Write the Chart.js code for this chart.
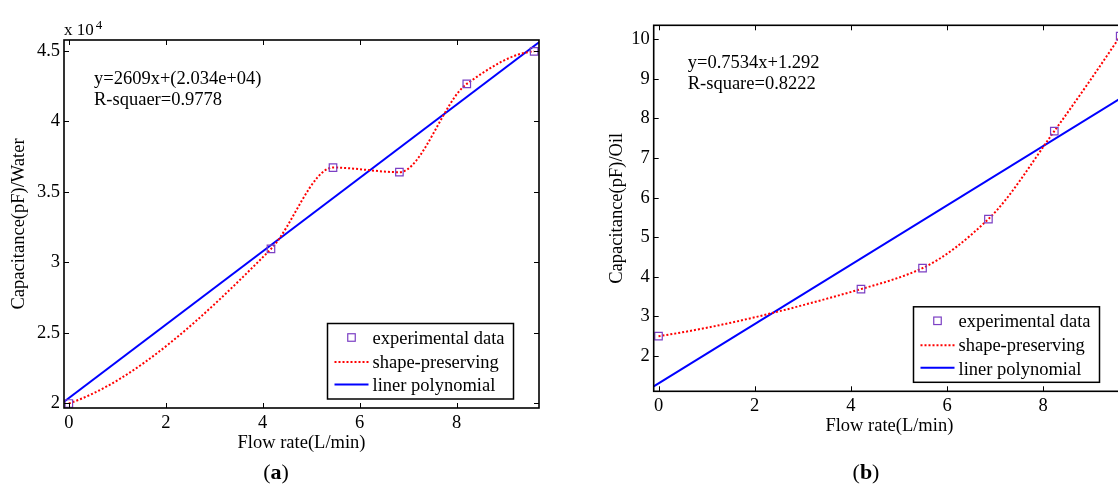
<!DOCTYPE html>
<html><head><meta charset="utf-8">
<script src="https://cdn.jsdelivr.net/npm/chart.js@4.4.1/dist/chart.umd.min.js"></script>
<style>
html,body{margin:0;padding:0;background:#fff;width:1118px;height:486px;overflow:hidden;position:relative;}
#wa{position:absolute;left:0;top:0;width:560px;height:486px;}
#wb{position:absolute;left:580px;top:0;width:580px;height:486px;}
</style></head><body>
<div id="wa"><canvas id="ca" width="560" height="486"></canvas></div>
<div id="wb"><canvas id="cb" width="580" height="486"></canvas></div>
<script>
// ---------- data ----------
const flowWater = [0, 4.17, 5.45, 6.82, 8.21, 9.6];
const capWater  = [20000, 30950, 36720, 36390, 42650, 44950];
const fitFlowWater = [-0.1, 9.7];
const fitCapWater  = [20130, 45600];

const flowOil = [0, 4.21, 5.49, 6.86, 8.23, 9.6];
const capOil  = [2.5, 3.69, 4.22, 5.46, 7.68, 10.08];
const fitFlowOil = [-0.1, 9.7];
const fitCapOil  = [1.23, 8.58];

const xTicks = [0, 2, 4, 6, 8];
const yTicksWater = [20000, 25000, 30000, 35000, 40000, 45000];
const yTicksOil = [2, 3, 4, 5, 6, 7, 8, 9, 10];

const legendLabels = ['experimental data', 'shape-preserving', 'liner polynomial'];
const eqWater = ['y=2609x+(2.034e+04)', 'R-squaer=0.9778'];
const eqOil = ['y=0.7534x+1.292', 'R-square=0.8222'];
const xTitle = 'Flow rate(L/min)';
const yTitleWater = 'Capacitance(pF)/Water';
const yTitleOil = 'Capacitance(pF)/Oil';

// ---------- styling ----------
const FONT = "'Liberation Serif','Times New Roman',serif";
const FS = 18.5;
const PURPLE = '#7b3fc4';
const RED = '#ff0000';
const BLUE = '#0000ff';

// MATLAB "shape-preserving" (pchip) tangents applied to the library's bezier segments
const pchipPlugin = {
  id: 'pchipCurve',
  afterDatasetUpdate(chart, args) {
    const ds = chart.data.datasets[args.index];
    if (!ds.pchip) return;
    const meta = args.meta, line = meta.dataset, pts = meta.data;
    const n = pts.length;
    if (!line || n < 3) return;
    const h = [], d = [];
    for (let k = 0; k < n - 1; k++) { h[k] = pts[k + 1].x - pts[k].x; d[k] = (pts[k + 1].y - pts[k].y) / h[k]; }
    const m = new Array(n).fill(0);
    for (let k = 1; k < n - 1; k++) {
      if (d[k - 1] * d[k] > 0) {
        const w1 = 2 * h[k] + h[k - 1], w2 = h[k] + 2 * h[k - 1];
        m[k] = (w1 + w2) / (w1 / d[k - 1] + w2 / d[k]);
      }
    }
    const endSlope = (h0, h1, d0, d1) => {
      let s = ((2 * h0 + h1) * d0 - h0 * d1) / (h0 + h1);
      if (Math.sign(s) !== Math.sign(d0)) s = 0;
      else if (Math.sign(d0) !== Math.sign(d1) && Math.abs(s) > Math.abs(3 * d0)) s = 3 * d0;
      return s;
    };
    m[0] = endSlope(h[0], h[1], d[0], d[1]);
    m[n - 1] = endSlope(h[n - 2], h[n - 3], d[n - 2], d[n - 3]);
    for (let k = 0; k < n; k++) {
      const p = pts[k];
      if (k > 0) { const hh = h[k - 1] / 3; p.cp1x = p.x - hh; p.cp1y = p.y - m[k] * hh; }
      else { p.cp1x = p.x; p.cp1y = p.y; }
      if (k < n - 1) { const hh = h[k] / 3; p.cp2x = p.x + hh; p.cp2y = p.y + m[k] * hh; }
      else { p.cp2x = p.x; p.cp2y = p.y; }
    }
    line._pointsUpdated = true;
  }
};

// frame, inward ticks, equation text, legend, sub-caption
const decorPlugin = {
  id: 'decor',
  afterDatasetsDraw(chart, args, o) {
    const ctx = chart.ctx, ca = chart.chartArea;
    const xs = chart.scales.x, ys = chart.scales.y;
    ctx.save();
    // frame
    ctx.strokeStyle = '#000'; ctx.lineWidth = 1.6;
    ctx.strokeRect(ca.left, ca.top, ca.right - ca.left, ca.bottom - ca.top);
    // inward ticks
    ctx.lineWidth = 1; ctx.beginPath();
    const TL = 5;
    xs.ticks.forEach(t => {
      const px = Math.round(xs.getPixelForValue(t.value)) + 0.5;
      ctx.moveTo(px, ca.bottom); ctx.lineTo(px, ca.bottom - TL);
      ctx.moveTo(px, ca.top); ctx.lineTo(px, ca.top + TL);
    });
    ys.ticks.forEach(t => {
      const py = Math.round(ys.getPixelForValue(t.value)) + 0.5;
      ctx.moveTo(ca.left, py); ctx.lineTo(ca.left + TL, py);
      ctx.moveTo(ca.right, py); ctx.lineTo(ca.right - TL, py);
    });
    ctx.stroke();
    // equation text
    ctx.fillStyle = '#000';
    ctx.font = FS + 'px ' + FONT;
    ctx.textAlign = 'left'; ctx.textBaseline = 'alphabetic';
    o.eq.forEach((s, i) => ctx.fillText(s, ca.left + o.eqX, ca.top + o.eqY[i]));
    // exponent label
    if (o.exp) {
      ctx.font = '17px ' + FONT;
      ctx.fillText(o.exp[0], ca.left, ca.top - 5);
      const w = ctx.measureText(o.exp[0]).width;
      ctx.font = '13px ' + FONT;
      ctx.fillText(o.exp[1], ca.left + w + 2, ca.top - 11);
    }
    // legend
    const LW = 186, LH = 75.5;
    const L = ca.right - 25.5 - LW, T = ca.bottom - 9 - LH;
    ctx.fillStyle = '#fff'; ctx.fillRect(L, T, LW, LH);
    ctx.strokeStyle = '#000'; ctx.lineWidth = 1.5; ctx.strokeRect(L, T, LW, LH);
    const textY = [15.5, 39.5, 63], symY = [14, 38.5, 61];
    const dsets = chart.data.datasets;
    dsets.forEach((ds, i) => {
      const sy = T + symY[i];
      ctx.save();
      if (i === 0) {
        ctx.strokeStyle = ds.pointBorderColor; ctx.lineWidth = 1.2;
        ctx.strokeRect(L + 24 - 3.75, sy - 3.75, 7.5, 7.5);
      } else {
        ctx.strokeStyle = ds.borderColor; ctx.lineWidth = ds.borderWidth;
        ctx.setLineDash(ds.borderDash || []);
        ctx.beginPath(); ctx.moveTo(L + 7, sy); ctx.lineTo(L + 41, sy); ctx.stroke();
      }
      ctx.restore();
      ctx.fillStyle = '#000'; ctx.font = FS + 'px ' + FONT;
      ctx.textBaseline = 'middle'; ctx.textAlign = 'left';
      ctx.fillText(ds.label, L + 45, T + textY[i]);
    });
    // sub-caption (a)/(b)
    ctx.textBaseline = 'middle';
    const fN = '22px ' + FONT, fB = 'bold 22px ' + FONT;
    ctx.font = fN; const wp = ctx.measureText('(').width, wq = ctx.measureText(')').width;
    ctx.font = fB; const wl = ctx.measureText(o.cap).width;
    let cx = o.capX - (wp + wl + wq) / 2;
    ctx.fillStyle = '#000';
    ctx.font = fN; ctx.fillText('(', cx, o.capY); cx += wp;
    ctx.font = fB; ctx.fillText(o.cap, cx, o.capY); cx += wl;
    ctx.font = fN; ctx.fillText(')', cx, o.capY);
    ctx.restore();
  }
};

function pts(xs, ys) { return xs.map((x, i) => ({ x: x, y: ys[i] })); }

function makeChart(id, c) {
  return new Chart(document.getElementById(id), {
    type: 'scatter',
    data: {
      datasets: [
        { label: legendLabels[0], data: pts(c.x, c.y), showLine: false,
          pointStyle: 'rect', pointRadius: 5.3, pointHoverRadius: 5.3,
          pointBorderColor: PURPLE, pointBackgroundColor: 'rgba(0,0,0,0)', pointBorderWidth: 1.2 },
        { label: legendLabels[1], data: pts(c.x, c.y), showLine: true, pchip: true,
          cubicInterpolationMode: 'monotone', borderColor: RED, borderWidth: 2, borderDash: [2, 2],
          pointRadius: 0, pointHoverRadius: 0, fill: false },
        { label: legendLabels[2], data: pts(c.fx, c.fy), showLine: true,
          borderColor: BLUE, borderWidth: 2, pointRadius: 0, pointHoverRadius: 0, fill: false }
      ]
    },
    options: {
      responsive: false, animation: false, devicePixelRatio: 1,
      layout: { padding: c.pad },
      events: [],
      plugins: {
        legend: { display: false }, tooltip: { enabled: false },
        decor: c.decor
      },
      scales: {
        x: {
          type: 'linear', position: 'bottom', min: -0.1, max: 9.7,
          afterBuildTicks: s => { s.ticks = xTicks.map(v => ({ value: v })); },
          afterFit: s => { s.height = 48; },
          grid: { display: false, drawTicks: false }, border: { display: false },
          ticks: { color: '#000', font: { family: FONT, size: FS }, padding: 4, maxRotation: 0, autoSkip: false },
          title: { display: true, text: xTitle, color: '#000', font: { family: FONT, size: FS }, padding: { top: 0, bottom: 2 } }
        },
        y: {
          type: 'linear', position: 'left', min: c.ymin, max: c.ymax,
          afterBuildTicks: s => { s.ticks = c.yt.map(v => ({ value: v })); },
          afterFit: s => { s.width = c.yw; },
          grid: { display: false, drawTicks: false }, border: { display: false },
          ticks: { color: '#000', font: { family: FONT, size: FS }, padding: 4, autoSkip: false, callback: c.fmt },
          title: { display: true, text: c.yTitle, color: '#000', font: { family: FONT, size: FS }, padding: { top: 0, bottom: 0 } }
        }
      }
    },
    plugins: [pchipPlugin, decorPlugin]
  });
}

makeChart('ca', {
  x: flowWater, y: capWater, fx: fitFlowWater, fy: fitCapWater,
  ymin: 19680, ymax: 45758, yt: yTicksWater, yw: 56, yTitle: yTitleWater,
  fmt: v => String(+(v / 1e4).toFixed(2)),
  pad: { left: 8, top: 40, right: 21, bottom: 30 },
  decor: { eq: eqWater, eqX: 30, eqY: [44, 65], exp: ['x 10', '4'], cap: 'a', capX: 276, capY: 473 }
});
makeChart('cb', {
  x: flowOil, y: capOil, fx: fitFlowOil, fy: fitCapOil,
  ymin: 1.108, ymax: 10.354, yt: yTicksOil, yw: 47.7, yTitle: yTitleOil,
  fmt: v => String(v),
  pad: { left: 26, top: 25.3, right: 35, bottom: 46.7 },
  decor: { eq: eqOil, eqX: 34, eqY: [43, 64], exp: null, cap: 'b', capX: 286, capY: 473 }
});
</script>
</body></html>
